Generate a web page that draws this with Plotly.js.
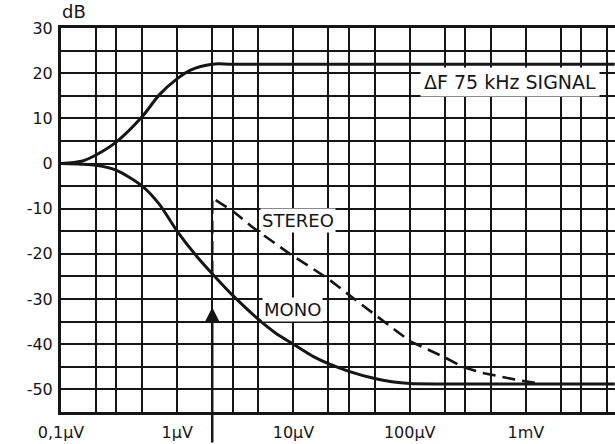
<!DOCTYPE html>
<html>
<head>
<meta charset="utf-8">
<script src="https://cdn.plot.ly/plotly-3.0.1.min.js"></script>
<style>html,body{margin:0;padding:0;background:#fff;}#chart{width:615px;height:444px;}</style>
</head>
<body>
<div id="chart"></div>
<script>
// Input voltage in µV, output in dB
const signalX = [0.1, 0.15, 0.2, 0.3, 0.5, 0.7, 1, 1.3, 2, 3, 5800];
const signalY = [0, 0.5, 1.9, 4.8, 10.4, 15.2, 18.8, 20.7, 22, 22, 22];

const monoX = [0.1, 0.15, 0.2, 0.3, 0.5, 0.7, 1, 1.5, 2, 3, 5, 7, 10, 15, 20, 30, 50, 70, 100, 200, 5800];
const monoY = [0, -0.15, -0.4, -1.5, -5, -9, -15, -20.8, -24.4, -29.2, -34.5, -37.5, -40, -42.8, -44.3, -46, -47.6, -48.3, -48.7, -48.8, -48.8];

const stereoX = [2, 2, 3, 4.5, 9.3, 19.4, 35, 100, 200, 290, 435, 840, 1300];
const stereoY = [-24.4, -7.6, -10.5, -14.2, -20, -25.3, -30.4, -39.3, -42.9, -45.1, -46.4, -47.9, -48.7];

const xTickVals = [0.1, 1, 10, 100, 1000];
const xTickText = ['0,1µV', '1µV', '10µV', '100µV', '1mV'];
const xMinorVals = [0.2, 0.3, 0.5, 2, 3, 5, 20, 30, 50, 200, 300, 500, 2000, 3000, 5000];
const yTickVals = [-50, -40, -30, -20, -10, 0, 10, 20, 30];
const yTickText = ['-50', '-40', '-30', '-20', '-10', '0', '10', '20', '30'];

const ink = '#161616';
const FONT = 'DejaVu Sans, sans-serif';

const traces = [
  {x: signalX, y: signalY, mode: 'lines', line: {color: ink, width: 3, shape: 'spline', smoothing: 0.8}, hoverinfo: 'skip'},
  {x: monoX, y: monoY, mode: 'lines', line: {color: ink, width: 3, shape: 'spline', smoothing: 0.8}, hoverinfo: 'skip'},
  {x: stereoX, y: stereoY, mode: 'lines', line: {color: ink, width: 2.6, dash: '13px,7px'}, hoverinfo: 'skip'}
];

const layout = {
  width: 615, height: 444,
  margin: {l: 61, r: 0, t: 28, b: 32, pad: 0},
  paper_bgcolor: '#fff', plot_bgcolor: '#fff',
  showlegend: false,
  font: {family: FONT, color: ink, size: 16},
  xaxis: {
    type: 'log', range: [-1, 3.766],
    tickmode: 'array', tickvals: xTickVals, ticktext: xTickText,
    ticks: '', showgrid: true, gridcolor: ink, gridwidth: 2,
    minor: {tickmode: 'array', tickvals: xMinorVals, showgrid: true, gridcolor: ink, gridwidth: 2, ticks: ''},
    showline: true, linecolor: ink, linewidth: 3, mirror: true,
    zeroline: false, ticklabelstandoff: 4,
    tickfont: {family: FONT, size: 16, color: ink}
  },
  yaxis: {
    range: [-55, 30],
    tickmode: 'array', tickvals: yTickVals, ticktext: yTickText,
    ticks: '', showgrid: true, gridcolor: ink, gridwidth: 2,
    minor: {dtick: 5, showgrid: true, gridcolor: ink, gridwidth: 2, ticks: ''},
    showline: true, linecolor: ink, linewidth: 3, mirror: false,
    zeroline: false, ticklabelstandoff: 2,
    tickfont: {family: FONT, size: 16, color: ink}
  },
  annotations: [
    {xref: 'paper', yref: 'paper', x: 0, y: 1, xanchor: 'left', yanchor: 'bottom', yshift: 4, xshift: -1,
     text: 'dB', showarrow: false, font: {family: FONT, size: 18, color: ink}},
    {x: Math.log10(736), y: 18, text: '\u0394F 75 kHz SIGNAL', showarrow: false,
     font: {family: FONT, size: 19, color: ink}, bgcolor: '#fff', borderpad: 3},
    {x: Math.log10(10.9), y: -12.7, text: 'STEREO', showarrow: false,
     font: {family: FONT, size: 18, color: ink}, bgcolor: '#fff', borderpad: 1},
    {x: Math.log10(9.9), y: -32.2, text: 'MONO', showarrow: false,
     font: {family: FONT, size: 18, color: ink}, bgcolor: '#fff', borderpad: 1},
    {x: Math.log10(2), y: -31.8, text: '', showarrow: true, ax: 0, ay: 137,
     arrowhead: 2, arrowsize: 1.1, arrowwidth: 2.5, arrowcolor: ink, standoff: 0}
  ]
};

Plotly.newPlot('chart', traces, layout, {staticPlot: true, displayModeBar: false});
</script>
</body>
</html>
